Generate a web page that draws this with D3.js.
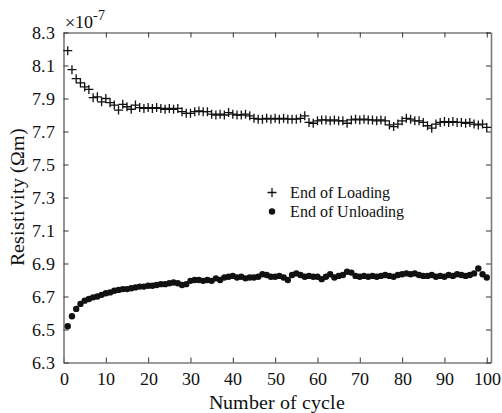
<!DOCTYPE html>
<html><head><meta charset="utf-8">
<script src="https://cdn.jsdelivr.net/npm/d3@7"></script>
<style>
@font-face{font-family:'ChartSerif';src:local('Liberation Serif'),local('LiberationSerif'),local('LiberationSerif-Regular'),local('Times New Roman'),local('TimesNewRomanPSMT'),local('DejaVu Serif'),local('DejaVuSerif');}
body{margin:0;background:#fff}svg{display:block}
svg text{font-family:'ChartSerif','Liberation Serif','Times New Roman',Times,'DejaVu Serif',serif !important;fill:#111}
</style>
</head><body>
<script>
const cycles = d3.range(1, 101);
const loading = [8.19,8.075,8.02,7.995,7.97,7.955,7.905,7.91,7.88,7.90,
7.875,7.86,7.83,7.865,7.85,7.835,7.86,7.845,7.84,7.845,
7.84,7.845,7.84,7.835,7.84,7.835,7.84,7.82,7.81,7.81,
7.82,7.825,7.82,7.82,7.805,7.80,7.805,7.80,7.815,7.805,
7.80,7.80,7.805,7.795,7.78,7.775,7.775,7.78,7.775,7.78,
7.775,7.78,7.775,7.775,7.775,7.78,7.795,7.755,7.75,7.765,
7.77,7.77,7.765,7.77,7.765,7.765,7.75,7.77,7.775,7.77,
7.775,7.77,7.77,7.765,7.77,7.765,7.74,7.73,7.745,7.765,
7.78,7.775,7.765,7.765,7.755,7.735,7.72,7.745,7.755,7.76,
7.755,7.76,7.755,7.755,7.75,7.755,7.745,7.74,7.745,7.725];
const unloading = [6.52,6.58,6.625,6.655,6.675,6.685,6.695,6.70,6.71,6.72,
6.725,6.735,6.74,6.745,6.745,6.75,6.755,6.76,6.76,6.765,
6.765,6.77,6.775,6.775,6.78,6.785,6.78,6.77,6.775,6.795,
6.80,6.80,6.795,6.80,6.795,6.81,6.80,6.815,6.82,6.825,
6.815,6.82,6.81,6.815,6.815,6.82,6.835,6.83,6.82,6.82,
6.825,6.815,6.80,6.83,6.84,6.83,6.82,6.825,6.82,6.82,
6.805,6.82,6.835,6.815,6.825,6.83,6.85,6.845,6.825,6.82,
6.825,6.82,6.825,6.82,6.825,6.83,6.825,6.82,6.83,6.835,
6.84,6.835,6.84,6.83,6.825,6.825,6.83,6.82,6.825,6.82,
6.83,6.825,6.835,6.83,6.825,6.83,6.84,6.87,6.835,6.815];
const xTicks = [0,10,20,30,40,50,60,70,80,90,100];
const yTicks = [6.3,6.5,6.7,6.9,7.1,7.3,7.5,7.7,7.9,8.1,8.3];
const legendLabels = ["End of Loading","End of Unloading"];

const FONT = "ChartSerif, 'Liberation Serif', 'Times New Roman', Times, 'DejaVu Serif', serif";
const W = 502, H = 413;
const m = {l:63.5, r:491, t:32.5, b:362.5};
const svg = d3.select("body").append("svg").attr("width",W).attr("height",H);
const x = d3.scaleLinear().domain([0,101]).range([m.l,m.r]);
const y = d3.scaleLinear().domain([6.3,8.3]).range([m.b,m.t]);
const frameCol = "#7a7a7a";

const gB = svg.append("g").attr("transform",`translate(0,${m.b})`)
  .call(d3.axisBottom(x).tickValues(xTicks).tickSizeInner(-5).tickSizeOuter(0).tickPadding(10).tickFormat(d3.format("d")));
const gT = svg.append("g").attr("transform",`translate(0,${m.t})`)
  .call(d3.axisTop(x).tickValues(xTicks).tickSizeInner(-5).tickSizeOuter(0).tickFormat(""));
const gL = svg.append("g").attr("transform",`translate(${m.l},0)`)
  .call(d3.axisLeft(y).tickValues(yTicks).tickSizeInner(-5).tickSizeOuter(0).tickPadding(9).tickFormat(d3.format(".1f")));
const gR = svg.append("g").attr("transform",`translate(${m.r},0)`)
  .call(d3.axisRight(y).tickValues(yTicks).tickSizeInner(-5).tickSizeOuter(0).tickFormat(""));
[gB,gT,gL,gR].forEach(g=>{
  g.attr("font-family",FONT);
  g.select(".domain").attr("stroke",frameCol).attr("stroke-width",1.6);
  g.selectAll(".tick line").attr("stroke","#333").attr("stroke-width",1);
  g.selectAll("text").attr("font-size",18).attr("fill","#111").style("font-family",FONT);
});
gB.selectAll("text").attr("dy","0.71em");

const ps = 4.5;
svg.append("g").selectAll("path").data(cycles).join("path")
  .attr("d",(d,i)=>{const cx=x(d), cy=y(loading[i]);return `M${cx-ps},${cy}H${cx+ps}M${cx},${cy-ps}V${cy+ps}`;})
  .attr("stroke","#111").attr("stroke-width",1.3).attr("fill","none");

svg.append("g").selectAll("circle").data(cycles).join("circle")
  .attr("cx",d=>x(d)).attr("cy",(d,i)=>y(unloading[i])).attr("r",3.2).attr("fill","#111");

const ex = svg.append("text").attr("x",65).attr("y",28).attr("font-size",18).style("font-family",FONT);
ex.append("tspan").text("×10");
ex.append("tspan").attr("dy",-8).attr("font-size",14).text("-7");

svg.append("text").attr("x",(m.l+m.r)/2).attr("y",409).attr("text-anchor","middle").attr("font-size",20).style("font-family",FONT).text("Number of cycle");
svg.append("text").attr("transform","translate(24,197) rotate(-90)").attr("text-anchor","middle").attr("font-size",20).style("font-family",FONT).text("Resistivity (Ωm)");

const lg = svg.append("g");
lg.append("path").attr("d",`M${272-ps},192.5H${272+ps}M272,${192.5-ps}V${192.5+ps}`).attr("stroke","#111").attr("stroke-width",1.3);
lg.append("circle").attr("cx",272).attr("cy",211.5).attr("r",3.2).attr("fill","#111");
lg.append("text").attr("x",290).attr("y",197.5).attr("font-size",16).style("font-family",FONT).text(legendLabels[0]);
lg.append("text").attr("x",290).attr("y",216.5).attr("font-size",16).style("font-family",FONT).text(legendLabels[1]);
</script>
</body></html>
